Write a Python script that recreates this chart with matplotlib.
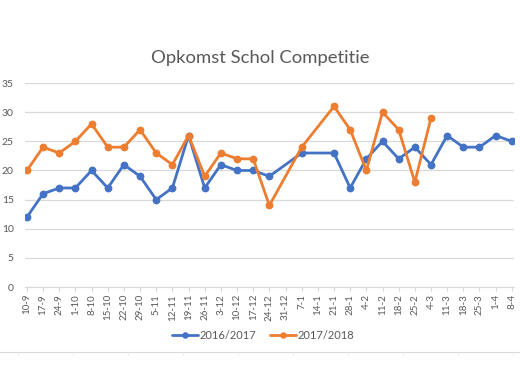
import numpy as np
import matplotlib
matplotlib.use("Agg")
import matplotlib.pyplot as plt
from matplotlib.lines import Line2D

categories = ["10-9", "17-9", "24-9", "1-10", "8-10", "15-10", "22-10", "29-10",
              "5-11", "12-11", "19-11", "26-11", "3-12", "10-12", "17-12", "24-12",
              "31-12", "7-1", "14-1", "21-1", "28-1", "4-2", "11-2", "18-2", "25-2",
              "4-3", "11-3", "18-3", "25-3", "1-4", "8-4"]

s2016 = [12, 16, 17, 17, 20, 17, 21, 19, 15, 17, 26, 17, 21, 20, 20, 19,
         None, 23, None, 23, 17, 22, 25, 22, 24, 21, 26, 24, 24, 26, 25]
s2017 = [20, 24, 23, 25, 28, 24, 24, 27, 23, 21, 26, 19, 23, 22, 22, 14,
         None, 24, None, 31, 27, 20, 30, 27, 18, 29, None, None, None, None, None]

series = [("2016/2017", s2016, "#4472C4"), ("2017/2018", s2017, "#ED7D31")]

plt.rcParams['font.family'] = ['Lato', 'DejaVu Sans']

fig = plt.figure(figsize=(5.2, 3.9), dpi=100)
ax = fig.add_axes([0.048, 0.264, 0.940, 0.523])

x = np.arange(len(categories))
for name, vals, col in series:
    xs = [i for i, v in zip(x, vals) if v is not None]
    ys = [v for v in vals if v is not None]
    ax.plot(xs, ys, color=col, lw=2.0, marker='o', ms=4.6, label=name,
            solid_capstyle='round', zorder=3)

ax.set_xlim(-0.12, len(categories) - 1 + 0.12)
ax.set_ylim(0, 35)
ax.set_yticks(range(0, 36, 5))
ax.set_xticks(x)
ax.set_xticklabels(categories, rotation=90, fontsize=7, color='#595959')
ax.tick_params(axis='y', length=0, labelsize=7.5, labelcolor='#595959', pad=8)
ax.tick_params(axis='x', length=3, color='#d9d9d9', pad=2)
ax.grid(axis='y', color='#d9d9d9', lw=0.9)
ax.set_axisbelow(True)
for s in ['top', 'right', 'left']:
    ax.spines[s].set_visible(False)
ax.spines['bottom'].set_color('#d9d9d9')

fig.text(0.5, 0.851, "Opkomst Schol Competitie", ha='center', va='center',
         fontsize=13.3, color='#595959')

leg = ax.legend(loc='center', bbox_to_anchor=(0.506, 0.14), bbox_transform=fig.transFigure,
                ncol=2, frameon=False, fontsize=8, labelcolor='#595959',
                handlelength=2.3, handletextpad=0.15, columnspacing=1.3,
                markerscale=0.8)

# spreadsheet cell border below chart
fig.add_artist(Line2D([0, 1], [1 - 352/390, 1 - 352/390], color='#d9d9d9',
                      lw=0.8, transform=fig.transFigure))
for px in range(18, 520, 55):
    fig.add_artist(Line2D([px/520, px/520], [1 - 352/390, 1 - 355/390],
                          color='#e6e6e6', lw=0.6, transform=fig.transFigure))

fig.savefig("out.png", dpi=100)
